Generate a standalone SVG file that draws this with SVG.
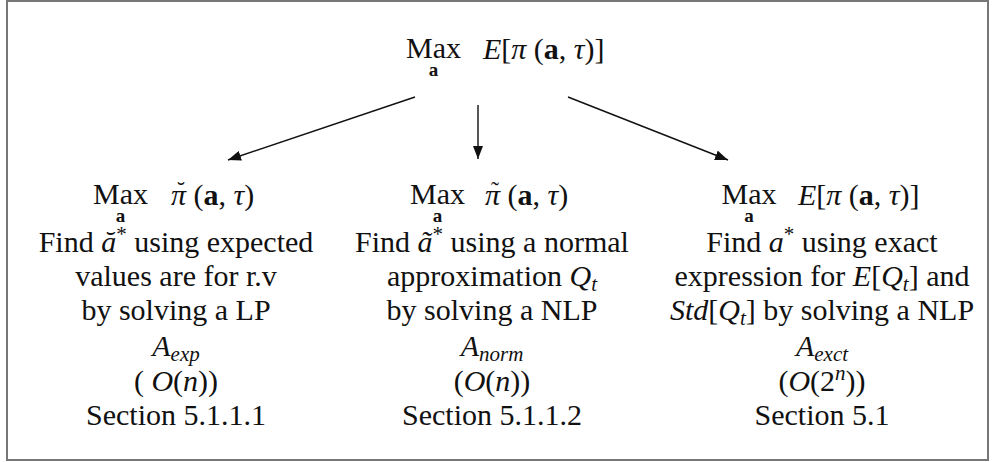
<svg xmlns="http://www.w3.org/2000/svg" width="995" height="462" viewBox="0 0 995 462" font-family="'Liberation Serif', 'DejaVu Serif', 'Times New Roman', serif">
<style>
text{font-family:'Liberation Serif','DejaVu Serif','Times New Roman',serif;font-size:30px;fill:#111}
.c{text-anchor:middle}
.i{font-style:italic}
.b{font-weight:bold}
.s{font-size:21px}
.sub{font-size:19px;font-weight:bold;text-anchor:middle}
.acc{font-size:24px;text-anchor:middle}
.edge{stroke:#111;stroke-width:1.4;fill:none;marker-end:url(#ah)}
</style>
<defs>
<marker id="ah" markerWidth="14" markerHeight="10" refX="13" refY="5" orient="auto" markerUnits="userSpaceOnUse">
<path d="M0,0 L13,5 L0,10 z" fill="#111"/>
</marker>
</defs>
<rect x="0" y="0" width="995" height="462" fill="#fff"/>
<rect x="7" y="1" width="981" height="459" fill="none" stroke="#777" stroke-width="2"/>

<g id="root">
<text class="c" x="433.5" y="58">Max</text>
<text class="sub" x="433.5" y="76">a</text>
<text x="483" y="59"><tspan class="i">E</tspan>[<tspan class="i">π</tspan> (<tspan class="b">a</tspan>, <tspan class="i">τ</tspan>)]</text>
</g>

<g id="node-exp">
<text class="c" x="120.5" y="204">Max</text>
<text class="sub" x="120.5" y="222">a</text>
<text x="171" y="205"><tspan class="i">π</tspan> (<tspan class="b">a</tspan>, <tspan class="i">τ</tspan>)</text>
<text class="acc" x="181" y="198">˘</text>
<text class="c" x="176" y="252">Find <tspan class="i">ă</tspan><tspan class="s" dy="-11">*</tspan><tspan dy="11"> using expected</tspan></text>
<text class="c" x="176" y="286">values are for r.v</text>
<text class="c" x="176" y="320">by solving a LP</text>
<text class="c" x="176" y="356"><tspan class="i">A</tspan><tspan class="i s" dy="5">exp</tspan></text>
<text class="c" x="176" y="391">( <tspan class="i">O</tspan>(<tspan class="i">n</tspan>))</text>
<text class="c" x="176" y="425">Section 5.1.1.1</text>
</g>

<g id="node-norm">
<text class="c" x="437.5" y="204">Max</text>
<text class="sub" x="437.5" y="222">a</text>
<text x="485" y="205"><tspan class="i">π</tspan> (<tspan class="b">a</tspan>, <tspan class="i">τ</tspan>)</text>
<text class="acc" x="495" y="198">˜</text>
<text class="c" x="492" y="252">Find <tspan class="i">ã</tspan><tspan class="s" dy="-11">*</tspan><tspan dy="11"> using a normal</tspan></text>
<text class="c" x="492" y="286">approximation <tspan class="i">Q</tspan><tspan class="i s" dy="5">t</tspan></text>
<text class="c" x="492" y="320">by solving a NLP</text>
<text class="c" x="492" y="356"><tspan class="i">A</tspan><tspan class="i s" dy="5">norm</tspan></text>
<text class="c" x="492" y="391">(<tspan class="i">O</tspan>(<tspan class="i">n</tspan>))</text>
<text class="c" x="492" y="425">Section 5.1.1.2</text>
</g>

<g id="node-exct">
<text class="c" x="749" y="204">Max</text>
<text class="sub" x="749" y="222">a</text>
<text x="798" y="205"><tspan class="i">E</tspan>[<tspan class="i">π</tspan> (<tspan class="b">a</tspan>, <tspan class="i">τ</tspan>)]</text>
<text class="c" x="822" y="252">Find <tspan class="i">a</tspan><tspan class="s" dy="-11">*</tspan><tspan dy="11"> using exact</tspan></text>
<text class="c" x="822" y="286">expression for <tspan class="i">E</tspan>[<tspan class="i">Q</tspan><tspan class="i s" dy="5">t</tspan><tspan dy="-5">] and</tspan></text>
<text class="c" x="822" y="320"><tspan class="i">Std</tspan>[<tspan class="i">Q</tspan><tspan class="i s" dy="5">t</tspan><tspan dy="-5">] by solving a NLP</tspan></text>
<text class="c" x="822" y="356"><tspan class="i">A</tspan><tspan class="i s" dy="5">exct</tspan></text>
<text class="c" x="822" y="391">(<tspan class="i">O</tspan>(2<tspan class="i s" dy="-11">n</tspan><tspan dy="11">))</tspan></text>
<text class="c" x="822" y="425">Section 5.1</text>
</g>

<g id="connectors">
<line class="edge" x1="415" y1="97" x2="228" y2="160"/>
<line class="edge" x1="478" y1="105" x2="478" y2="159"/>
<line class="edge" x1="568" y1="97" x2="728" y2="160"/>
</g>
</svg>
